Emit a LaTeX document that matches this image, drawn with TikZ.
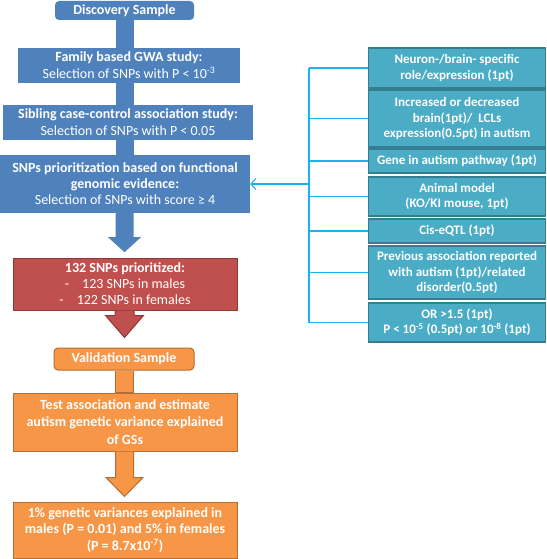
\documentclass[tikz,border=0pt]{standalone}
\usepackage{fontspec}
\setmainfont{Carlito}
\usetikzlibrary{arrows.meta}
\definecolor{cblue}{HTML}{4F81BD}
\definecolor{cred}{HTML}{C0504D}
\definecolor{credd}{HTML}{8C3836}
\definecolor{corg}{HTML}{F79646}
\definecolor{corgd}{HTML}{B66D31}
\definecolor{cteal}{HTML}{4BACC6}
\definecolor{cteald}{HTML}{357D91}
\definecolor{cline}{HTML}{1DB2EC}
\begin{document}
\begin{tikzpicture}[x=1pt,y=-1pt,
  box/.style={align=center, text=white, inner sep=0pt, font=\fontsize{14}{16.5}\selectfont},
  bbox/.style={box, fill=cblue},
  rbox/.style={box, fill=cred, draw=credd, line width=1pt},
  obox/.style={box, fill=corg, draw=corgd, line width=1pt},
  tbox/.style={box, fill=cteal, draw=cteald, line width=1.3pt, minimum width=177pt,
     font=\fontsize{13}{15.3}\selectfont\bfseries},
  cl/.style={draw=cline, line width=1.1pt},
  bshaft/.style={draw=cblue, line width=18pt},
]
\fill[white] (0,0) rectangle (546,559);
\useasboundingbox (0,0) rectangle (546,559);
\coordinate (ax) at (124.5,0);
\coordinate (bx) at (309,0);

% left column
\node[bbox, minimum width=139pt, minimum height=19pt, rounded corners=4pt] (disc) at (124.5,10.5) {\bfseries Discovery Sample};
\node[bbox, minimum width=222pt, minimum height=35pt, font=\fontsize{14}{17}\selectfont] (fam) at (129,65.5)
  {\textbf{Family based GWA study:}\\Selection of SNPs with P < 10\textsuperscript{-3}};
\node[bbox, minimum width=250pt, minimum height=35pt, font=\fontsize{14}{17}\selectfont] (sib) at (128,122.5)
  {\textbf{Sibling case-control association study:}\\Selection of SNPs with P < 0.05};
\node[bbox, minimum width=250pt, minimum height=58pt, font=\fontsize{14}{16}\selectfont] (snp) at (125,184)
  {\textbf{SNPs prioritization based on functional}\\\textbf{genomic evidence:}\\Selection of SNPs with score ≥ 4};
\node[rbox, minimum width=224pt, minimum height=52pt, font=\fontsize{14}{16}\selectfont] (red) at (125,284)
  {\textbf{132 SNPs prioritized:}\\-\hspace{13pt}123 SNPs in males\\-\hspace{13pt}122 SNPs in females};
\node[obox, minimum width=140pt, minimum height=22pt, rounded corners=4pt] (val) at (124,359) {\bfseries Validation Sample};
\node[obox, minimum width=224pt, minimum height=58pt, font=\fontsize{14}{17.5}\selectfont\bfseries] (test) at (125,422)
  {Test association and estimate\\autism genetic variance explained\\of GSs};
\node[obox, minimum width=224pt, minimum height=56pt, font=\fontsize{14}{16.5}\selectfont\bfseries] (fin) at (125,530)
  {1\% genetic variances explained in\\males (P = 0.01) and 5\% in females\\(P = 8.7x10\textsuperscript{-7})};

% blue connectors
\draw[bshaft] (disc.south -| ax) -- (fam.north -| ax);
\draw[bshaft] (fam.south -| ax) -- (sib.north -| ax);
\draw[bshaft] (sib.south -| ax) -- (snp.north -| ax);
\fill[cblue] (snp.south -| ax) ++(-9,0) -- ++(0,24) -- ++(-7.5,0) -- ++(16.5,15) -- ++(16.5,-15) -- ++(-7.5,0) -- ++(0,-24) -- cycle;
% red arrow
\filldraw[fill=cred, draw=credd, line width=1pt] (red.south -| ax) ++(-9.5,0) -- ++(0,5) -- ++(-9.5,0) -- ++(19,22) -- ++(19,-22) -- ++(-9.5,0) -- ++(0,-5);
% orange connectors
\draw[draw=corgd, line width=19.5pt] (val.south -| ax) -- (test.north -| ax);
\draw[draw=corg, line width=17.5pt] ([yshift=-0.5pt]val.south -| ax) -- ([yshift=0.5pt]test.north -| ax);
\filldraw[fill=corg, draw=corgd, line width=1pt] (test.south -| ax) ++(-9,0) -- ++(0,26) -- ++(-9.5,0) -- ++(18.5,19) -- ++(18.5,-19) -- ++(-9.5,0) -- ++(0,-26);

% right column
\node[tbox, minimum height=40pt] (r1) at (457,68) {Neuron-/brain- specific\\role/expression (1pt)};
\node[tbox, minimum height=57pt] (r2) at (457,118.5) {Increased or decreased\\brain(1pt)/\ \ LCLs\\expression(0.5pt) in autism};
\node[tbox, minimum height=24pt] (r3) at (457,161) {Gene in autism pathway (1pt)};
\node[tbox, minimum height=39pt] (r4) at (457,196.5) {Animal model\\(KO/KI mouse, 1pt)};
\node[tbox, minimum height=24pt] (r5) at (457,231) {Cis-eQTL (1pt)};
\node[tbox, minimum height=53pt] (r6) at (457,272.5) {Previous association reported\\with autism (1pt)/related\\disorder(0.5pt)};
\node[tbox, minimum height=39pt] (r7) at (457,322.5) {OR >1.5 (1pt)\\P < 10\textsuperscript{-5} (0.5pt) or 10\textsuperscript{-8} (1pt)};

% bracket
\draw[cl] (r1.west -| bx) -- (r7.west -| bx);
\foreach \r in {r1,r2,r3,r4,r5,r6,r7}{\draw[cl] (\r.west -| bx) -- (\r.west);}
\draw[cl, -{Straight Barb[length=5pt,width=11pt]}] (snp.east -| bx) -- (snp.east);
\end{tikzpicture}
\end{document}
